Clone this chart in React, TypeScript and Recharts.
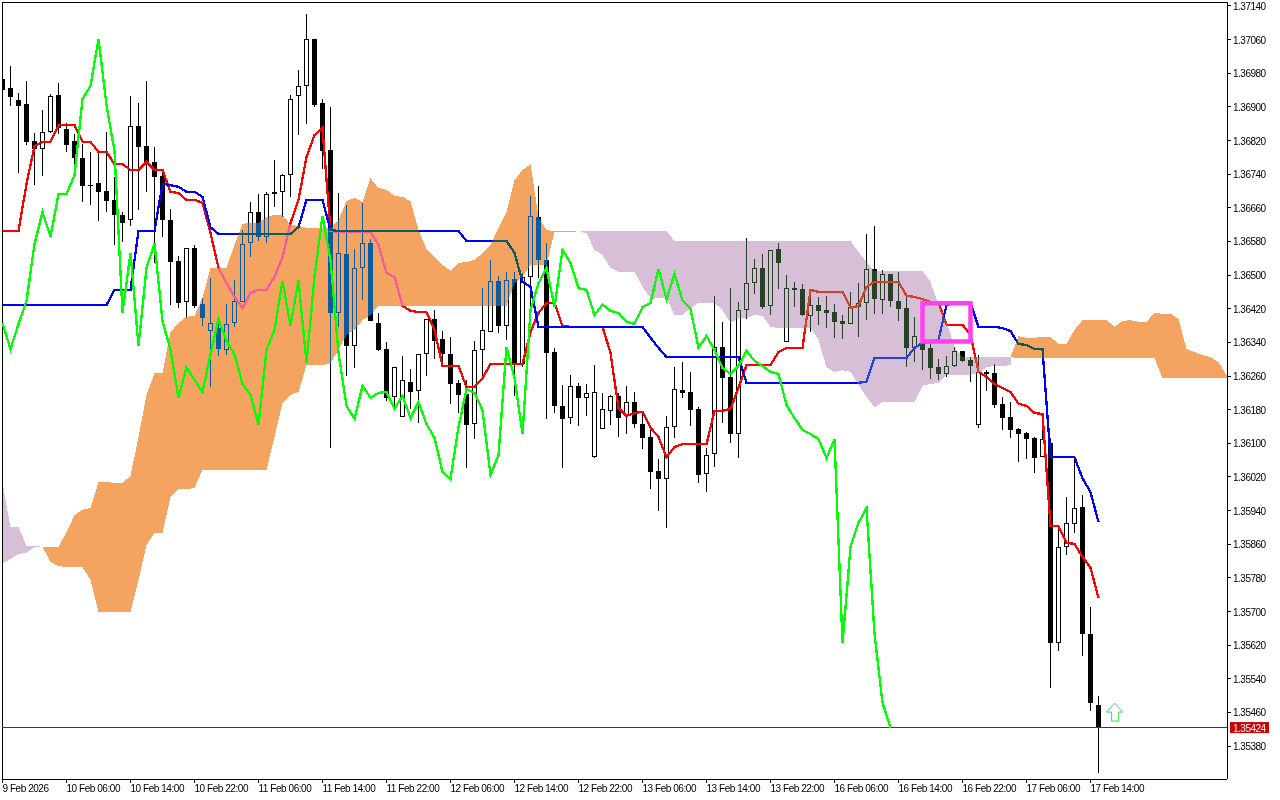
import React from 'react';
import {
  ComposedChart,
  Bar,
  Line,
  Area,
  XAxis,
  YAxis,
  ReferenceLine,
  ReferenceArea,
  ReferenceDot,
} from 'recharts';

// hourly bars, 9 Feb 2026 .. 17 Feb 15:00
const opens = [
  1.36966,1.36945,1.36917,1.36907,1.36819,1.36800,1.36840,1.36928,1.36847,1.36819,
  1.36779,1.36714,1.36719,1.36700,1.36679,1.36643,1.36631,1.36855,1.36807,1.36769,
  1.36736,1.36631,1.36534,1.36436,1.36565,1.36431,1.36367,1.36374,1.36322,1.36386,
  1.36436,1.36576,1.36650,1.36591,1.36698,1.36698,1.36738,1.36926,1.36950,1.37062,
  1.36909,1.36798,1.36410,1.36550,1.36332,1.36517,1.36576,1.36386,1.36324,1.36210,
  1.36163,1.36246,1.36225,1.36312,1.36396,1.36348,1.36312,1.36244,1.36217,1.36146,
  1.36322,1.36365,1.36486,1.36379,1.36491,1.36289,1.36496,1.36638,1.36536,1.36317,
  1.36189,1.36160,1.36237,1.36208,1.36067,1.36134,1.36177,1.36213,1.36165,1.36198,
  1.36146,1.36115,1.36034,1.36015,1.36139,1.36227,1.36222,1.36182,1.36027,1.36075,
  1.36329,1.36258,1.36122,1.36417,1.36481,1.36517,1.36427,1.36562,1.36341,1.36469,
  1.36467,1.36403,1.36430,1.36417,1.36412,1.36391,1.36384,1.36424,1.36434,1.36515,
  1.36441,1.36503,1.36439,1.36422,1.36327,1.36336,1.36327,1.36281,1.36265,1.36284,
  1.36320,1.36298,1.36144,1.36270,1.36267,1.36194,1.36163,1.36134,1.36125,1.36113,
  1.36067,1.36101,1.35625,1.35854,1.35908,1.35948,1.35647,1.35478,
];
const highs = [
  1.36997,1.36997,1.36933,1.36962,1.36838,1.36893,1.36931,1.36957,1.36862,1.36836,
  1.36812,1.36793,1.36793,1.36840,1.36733,1.36650,1.36926,1.36909,1.36962,1.36805,
  1.36750,1.36657,1.36546,1.36565,1.36572,1.36446,1.36493,1.36398,1.36431,1.36488,
  1.36607,1.36674,1.36693,1.36698,1.36774,1.36740,1.36928,1.36988,1.37121,1.37062,
  1.36919,1.36900,1.36695,1.36667,1.36562,1.36672,1.36586,1.36410,1.36341,1.36281,
  1.36308,1.36277,1.36312,1.36396,1.36417,1.36367,1.36353,1.36251,1.36251,1.36343,
  1.36469,1.36536,1.36498,1.36508,1.36508,1.36505,1.36688,1.36712,1.36576,1.36327,
  1.36239,1.36263,1.36244,1.36241,1.36286,1.36220,1.36215,1.36220,1.36237,1.36222,
  1.36175,1.36136,1.36063,1.36165,1.36281,1.36293,1.36270,1.36186,1.36089,1.36451,
  1.36389,1.36469,1.36436,1.36588,1.36538,1.36550,1.36560,1.36576,1.36500,1.36484,
  1.36479,1.36467,1.36448,1.36451,1.36431,1.36405,1.36460,1.36481,1.36598,1.36617,
  1.36512,1.36503,1.36508,1.36453,1.36401,1.36374,1.36339,1.36300,1.36308,1.36329,
  1.36320,1.36305,1.36310,1.36274,1.36289,1.36210,1.36198,1.36137,1.36127,1.36115,
  1.36132,1.36113,1.35901,1.35973,1.36060,1.35977,1.35711,1.35499,
];
const lows = [
  1.36936,1.36902,1.36743,1.36810,1.36714,1.36736,1.36838,1.36836,1.36793,1.36760,
  1.36674,1.36667,1.36629,1.36650,1.36572,1.36579,1.36617,1.36655,1.36698,1.36529,
  1.36591,1.36430,1.36422,1.36398,1.36422,1.36379,1.36234,1.36308,1.36310,1.36377,
  1.36436,1.36543,1.36581,1.36576,1.36662,1.36638,1.36686,1.36833,1.36859,1.36900,
  1.36752,1.36089,1.36377,1.36260,1.36279,1.36441,1.36391,1.36320,1.36201,1.36186,
  1.36163,1.36182,1.36148,1.36260,1.36300,1.36281,1.36194,1.36172,1.36041,1.36110,
  1.36260,1.36365,1.36362,1.36346,1.36213,1.36281,1.36424,1.36493,1.36158,1.36172,
  1.36041,1.36146,1.36141,1.36165,1.36065,1.36134,1.36144,1.36115,1.36122,1.36136,
  1.36086,1.35991,1.35939,1.35899,1.36113,1.36208,1.36141,1.36006,1.35984,1.36044,
  1.36148,1.36101,1.36065,1.36396,1.36455,1.36420,1.36405,1.36467,1.36341,1.36424,
  1.36403,1.36365,1.36381,1.36374,1.36351,1.36348,1.36384,1.36353,1.36393,1.36408,
  1.36408,1.36424,1.36391,1.36281,1.36293,1.36274,1.36253,1.36251,1.36258,1.36281,
  1.36293,1.36246,1.36137,1.36225,1.36184,1.36132,1.36113,1.36056,1.36063,1.36030,
  1.36067,1.35518,1.35606,1.35834,1.35887,1.35595,1.35464,1.35316,
];
const closes = [
  1.36940,1.36924,1.36902,1.36817,1.36800,1.36840,1.36926,1.36850,1.36810,1.36779,
  1.36712,1.36712,1.36698,1.36676,1.36643,1.36624,1.36855,1.36805,1.36769,1.36733,
  1.36631,1.36531,1.36434,1.36565,1.36427,1.36398,1.36386,1.36324,1.36384,1.36439,
  1.36574,1.36650,1.36591,1.36693,1.36693,1.36738,1.36919,1.36950,1.37062,1.36904,
  1.36795,1.36410,1.36553,1.36332,1.36517,1.36576,1.36391,1.36322,1.36208,1.36281,
  1.36251,1.36222,1.36312,1.36396,1.36343,1.36312,1.36241,1.36215,1.36144,1.36322,
  1.36370,1.36486,1.36379,1.36488,1.36291,1.36496,1.36641,1.36536,1.36315,1.36189,
  1.36158,1.36237,1.36208,1.36220,1.36222,1.36182,1.36213,1.36160,1.36198,1.36146,
  1.36113,1.36032,1.36015,1.36139,1.36229,1.36220,1.36179,1.36025,1.36072,1.36329,
  1.36255,1.36122,1.36417,1.36481,1.36517,1.36424,1.36560,1.36529,1.36469,1.36465,
  1.36405,1.36430,1.36415,1.36410,1.36389,1.36384,1.36424,1.36434,1.36515,1.36443,
  1.36503,1.36439,1.36420,1.36327,1.36355,1.36322,1.36279,1.36265,1.36284,1.36320,
  1.36296,1.36284,1.36270,1.36265,1.36191,1.36160,1.36132,1.36122,1.36110,1.36065,
  1.36110,1.35625,1.35854,1.35911,1.35946,1.35647,1.35483,1.35424,
];

const tenkan = [
  1.36605,1.36605,1.36605,1.36717,1.36807,1.36817,1.36817,1.36857,1.36857,1.36857,
  1.36817,1.36817,1.36793,1.36793,1.36764,1.36764,1.36750,1.36750,1.36769,1.36750,
  1.36750,1.36698,1.36695,1.36679,1.36679,1.36672,1.36600,1.36517,1.36481,1.36448,
  1.36422,1.36458,1.36465,1.36465,1.36496,1.36543,1.36624,1.36679,1.36781,1.36833,
  1.36850,1.36605,1.36603,1.36603,1.36603,1.36603,1.36603,1.36572,1.36505,1.36496,
  1.36427,1.36415,1.36412,1.36412,1.36370,1.36284,1.36284,1.36284,1.36234,1.36234,
  1.36255,1.36289,1.36289,1.36289,1.36289,1.36289,1.36365,1.36410,1.36434,1.36434,
  1.36379,1.36377,1.36377,1.36377,1.36377,1.36377,1.36315,1.36184,1.36165,1.36172,
  1.36175,1.36137,1.36115,1.36067,1.36091,1.36098,1.36098,1.36098,1.36098,1.36177,
  1.36177,1.36182,1.36232,1.36286,1.36286,1.36286,1.36286,1.36317,1.36327,1.36327,
  1.36327,1.36465,1.36460,1.36460,1.36460,1.36460,1.36422,1.36427,1.36472,1.36484,
  1.36484,1.36484,1.36484,1.36451,1.36448,1.36443,1.36436,1.36434,1.36382,1.36382,
  1.36382,1.36358,1.36270,1.36258,1.36241,1.36232,1.36222,1.36194,1.36189,1.36172,
  1.36170,1.35903,1.35903,1.35863,1.35861,1.35830,1.35804,1.35732,
];
const kijun = [
  1.36429,1.36429,1.36429,1.36429,1.36429,1.36429,1.36429,1.36429,1.36429,1.36429,
  1.36429,1.36429,1.36429,1.36429,1.36465,1.36465,1.36465,1.36605,1.36605,1.36605,
  1.36717,1.36714,1.36710,1.36698,1.36698,1.36686,1.36614,1.36598,1.36598,1.36598,
  1.36598,1.36598,1.36598,1.36598,1.36598,1.36598,1.36598,1.36614,1.36679,1.36679,
  1.36679,1.36607,1.36605,1.36605,1.36605,1.36605,1.36605,1.36605,1.36605,1.36605,
  1.36605,1.36605,1.36605,1.36605,1.36605,1.36605,1.36605,1.36605,1.36581,1.36581,
  1.36581,1.36581,1.36581,1.36581,1.36553,1.36484,1.36472,1.36377,1.36377,1.36377,
  1.36377,1.36377,1.36377,1.36377,1.36377,1.36377,1.36377,1.36377,1.36377,1.36377,
  1.36377,1.36351,1.36327,1.36305,1.36305,1.36305,1.36305,1.36305,1.36305,1.36305,
  1.36305,1.36305,1.36305,1.36244,1.36244,1.36244,1.36244,1.36244,1.36244,1.36244,
  1.36244,1.36244,1.36244,1.36244,1.36244,1.36244,1.36244,1.36244,1.36246,1.36303,
  1.36303,1.36303,1.36303,1.36303,1.36327,1.36339,1.36341,1.36346,1.36429,1.36434,
  1.36434,1.36434,1.36377,1.36377,1.36377,1.36374,1.36367,1.36336,1.36334,1.36324,
  1.36324,1.36067,1.36067,1.36067,1.36067,1.36017,1.35984,1.35913,
];
const chikou = [
  1.36386,1.36324,1.36384,1.36439,1.36574,1.36650,1.36591,1.36693,1.36693,1.36738,
  1.36919,1.36950,1.37062,1.36904,1.36795,1.36410,1.36553,1.36332,1.36517,1.36576,
  1.36391,1.36322,1.36208,1.36281,1.36251,1.36222,1.36312,1.36396,1.36343,1.36312,
  1.36241,1.36215,1.36144,1.36322,1.36370,1.36486,1.36379,1.36488,1.36291,1.36496,
  1.36641,1.36536,1.36315,1.36189,1.36158,1.36237,1.36208,1.36220,1.36222,1.36182,
  1.36213,1.36160,1.36198,1.36146,1.36113,1.36032,1.36015,1.36139,1.36229,1.36220,
  1.36179,1.36025,1.36072,1.36329,1.36255,1.36122,1.36417,1.36481,1.36517,1.36424,
  1.36560,1.36529,1.36469,1.36465,1.36405,1.36430,1.36415,1.36410,1.36389,1.36384,
  1.36424,1.36434,1.36515,1.36443,1.36503,1.36439,1.36420,1.36327,1.36355,1.36322,
  1.36279,1.36265,1.36284,1.36320,1.36296,1.36284,1.36270,1.36265,1.36191,1.36160,
  1.36132,1.36122,1.36110,1.36065,1.36110,1.35625,1.35854,1.35911,1.35946,1.35647,
  1.35483,1.35424,
];
const senkouA = [
  1.35815,1.35825,1.35837,1.35839,1.35854,1.35854,1.35854,1.35854,1.35889,1.35929,
  1.35942,1.35946,1.36008,1.36008,1.36006,1.36006,1.36022,1.36115,1.36215,1.36267,
  1.36267,1.36365,1.36386,1.36401,1.36403,1.36446,1.36517,1.36517,1.36517,1.36572,
  1.36622,1.36624,1.36624,1.36638,1.36643,1.36643,1.36619,1.36617,1.36612,1.36612,
  1.36612,1.36612,1.36631,1.36676,1.36684,1.36674,1.36731,1.36707,1.36703,1.36688,
  1.36686,1.36676,1.36607,1.36562,1.36543,1.36524,1.36510,1.36529,1.36531,1.36536,
  1.36553,1.36572,1.36612,1.36650,1.36726,1.36750,1.36764,1.36638,1.36607,1.36605,
  1.36605,1.36605,1.36603,1.36600,1.36560,1.36548,1.36517,1.36508,1.36508,1.36508,
  1.36472,1.36446,1.36446,1.36446,1.36405,1.36405,1.36422,1.36434,1.36434,1.36434,
  1.36417,1.36386,1.36398,1.36398,1.36405,1.36403,1.36377,1.36374,1.36374,1.36374,
  1.36374,1.36374,1.36346,1.36281,1.36270,1.36274,1.36270,1.36239,1.36210,1.36186,
  1.36198,1.36198,1.36198,1.36198,1.36198,1.36237,1.36241,1.36244,1.36263,1.36263,
  1.36263,1.36263,1.36267,1.36281,1.36284,1.36284,1.36286,1.36355,1.36351,1.36351,
  1.36353,1.36353,1.36336,1.36336,1.36370,1.36393,1.36393,1.36393,1.36393,1.36377,
  1.36391,1.36393,1.36389,1.36389,1.36410,1.36408,1.36408,1.36396,1.36324,1.36317,
  1.36310,1.36305,1.36293,1.36262,
];
const senkouB = [
  1.36006,1.35901,1.35901,1.35856,1.35856,1.35854,1.35818,1.35808,1.35806,1.35806,
  1.35806,1.35775,1.35699,1.35699,1.35699,1.35699,1.35699,1.35775,1.35858,1.35887,
  1.35887,1.35973,1.35991,1.35991,1.35994,1.36037,1.36037,1.36037,1.36037,1.36037,
  1.36037,1.36037,1.36037,1.36037,1.36115,1.36196,1.36215,1.36222,1.36286,1.36286,
  1.36286,1.36291,1.36322,1.36358,1.36370,1.36393,1.36405,1.36427,1.36427,1.36427,
  1.36427,1.36427,1.36427,1.36427,1.36427,1.36427,1.36427,1.36427,1.36427,1.36427,
  1.36427,1.36427,1.36427,1.36427,1.36481,1.36496,1.36524,1.36524,1.36524,1.36603,
  1.36603,1.36603,1.36603,1.36605,1.36605,1.36605,1.36605,1.36605,1.36605,1.36605,
  1.36605,1.36605,1.36605,1.36605,1.36581,1.36581,1.36581,1.36581,1.36581,1.36581,
  1.36581,1.36581,1.36581,1.36581,1.36581,1.36581,1.36581,1.36581,1.36581,1.36581,
  1.36581,1.36581,1.36581,1.36581,1.36581,1.36581,1.36581,1.36555,1.36531,1.36510,
  1.36510,1.36510,1.36510,1.36510,1.36510,1.36510,1.36484,1.36429,1.36389,1.36329,
  1.36305,1.36305,1.36305,1.36305,1.36305,1.36305,1.36305,1.36303,1.36303,1.36303,
  1.36303,1.36303,1.36303,1.36303,1.36303,1.36303,1.36303,1.36303,1.36303,1.36303,
  1.36303,1.36303,1.36303,1.36303,1.36303,1.36255,1.36255,1.36255,1.36255,1.36255,
  1.36255,1.36255,1.36255,1.36255,
];

const priceTicks = [
  1.3714, 1.3706, 1.3698, 1.369, 1.3682, 1.3674, 1.3666, 1.3658, 1.365, 1.3642, 1.3634,
  1.3626, 1.3618, 1.361, 1.3602, 1.3594, 1.3586, 1.3578, 1.357, 1.3562, 1.3554, 1.3546, 1.3538,
];
const timeLabels = [
  '9 Feb 2026', '10 Feb 06:00', '10 Feb 14:00', '10 Feb 22:00', '11 Feb 06:00', '11 Feb 14:00',
  '11 Feb 22:00', '12 Feb 06:00', '12 Feb 14:00', '12 Feb 22:00', '13 Feb 06:00', '13 Feb 14:00',
  '13 Feb 22:00', '16 Feb 06:00', '16 Feb 14:00', '16 Feb 22:00', '17 Feb 06:00', '17 Feb 14:00',
];
const BARS_PER_LABEL = 8;
const timeTicks = timeLabels.map((_, i) => i * BARS_PER_LABEL);

const lastPrice = 1.35424;
const priceDomain = [1.353017, 1.371495];
const barDomain = [-0.0625, 153.0625];

const rows = senkouA.map((a, i) => {
  const b = senkouB[i];
  const startsBull = a < b && senkouA[i + 1] > senkouB[i + 1];
  return {
    bar: i,
    open: opens[i],
    high: highs[i],
    low: lows[i],
    close: closes[i],
    range: i < opens.length ? [lows[i], highs[i]] : [null, null],
    tenkan: tenkan[i] ?? null,
    kijun: kijun[i] ?? null,
    chikou: chikou[i] ?? null,
    kumoBull: a >= b ? [b, a] : startsBull ? [b, b] : [null, null],
    kumoBear: a <= b ? [a, b] : [null, null],
  };
});

// wick + body, price -> pixel taken from the bar rectangle the y axis produced
const Candle = (props: any) => {
  const { x, y, width, height, payload } = props;
  if (payload.high == null || !height) return null;
  const perUnit = height / (payload.high - payload.low);
  const toY = (p: number) => Math.round(y + (payload.high - p) * perUnit);
  const cx = Math.floor(x + width / 2) + 0.5;
  const bull = payload.close > payload.open;
  const top = toY(Math.max(payload.open, payload.close));
  const bottom = Math.max(toY(Math.min(payload.open, payload.close)), top + 1);
  return (
    <g shapeRendering="crispEdges">
      <line x1={cx} x2={cx} y1={toY(payload.high)} y2={toY(payload.low)} stroke="#000" />
      {bull ? (
        <rect x={cx - 2} y={top + 0.5} width={4} height={bottom - top - 1} fill="#fff" stroke="#000" />
      ) : (
        <rect x={cx - 2.5} y={top} width={5} height={bottom - top} fill="#000" />
      )}
    </g>
  );
};

const TimeTick = ({ x, y, payload }: any) => (
  <text x={x} y={y + 7} fontFamily="Liberation Sans" fontSize={10} letterSpacing={-0.45} fill="#000">
    {timeLabels[payload.value / BARS_PER_LABEL]}
  </text>
);

const PriceTick = ({ x, y, payload }: any) => (
  <text x={x} y={y + 4} fontFamily="Liberation Sans" fontSize={10} letterSpacing={-0.5} fill="#000">
    {payload.value.toFixed(5)}
  </text>
);

const PriceTag = ({ viewBox }: any) => {
  const x = viewBox.x + viewBox.width;
  return (
    <g>
      <rect x={x + 3} y={viewBox.y - 5.5} width={39} height={11} fill="#c80000" />
      <text x={x + 6} y={viewBox.y + 4} fontFamily="Liberation Sans" fontSize={10} letterSpacing={-0.5} fill="#fff">
        {lastPrice.toFixed(5)}
      </text>
    </g>
  );
};

const UpArrow = ({ cx, cy }: any) => {
  const d = (ox: number, oy: number) =>
    `M${ox} ${oy - 9}L${ox + 8} ${oy}H${ox + 4}V${oy + 9}H${ox - 3}V${oy}H${ox - 8}Z`;
  return (
    <g>
      <path d={d(cx + 0.5, cy + 0.5)} fill="none" stroke="#b6f2f2" />
      <path d={d(cx, cy)} fill="none" stroke="#5fdc5f" />
    </g>
  );
};

const axisPen = { stroke: '#000', shapeRendering: 'crispEdges' };
const LINE_WIDTH = 2.3;

export default function App() {
  return (
    <div style={{ position: 'absolute', left: 0, top: 0, width: 1280, height: 800, background: '#fff' }}>
      <style>{'.kumo{mix-blend-mode:difference}'}</style>
      <ComposedChart width={1280} height={800} data={rows} margin={{ top: 2, right: 0, bottom: 0, left: 2 }}>
        <ReferenceArea
          x1={barDomain[0]}
          x2={barDomain[1]}
          y1={priceDomain[0]}
          y2={priceDomain[1]}
          fill="#fff"
          fillOpacity={1}
          stroke="none"
          zIndex={1}
        />
        <XAxis
          dataKey="bar"
          type="number"
          domain={barDomain}
          ticks={timeTicks}
          interval={0}
          height={21}
          tickSize={4}
          tickMargin={2}
          axisLine={axisPen}
          tickLine={axisPen}
          tick={<TimeTick />}
          allowDataOverflow
        />
        <YAxis
          orientation="right"
          type="number"
          domain={priceDomain}
          ticks={priceTicks}
          interval={0}
          width={53}
          tickSize={4}
          tickMargin={2}
          axisLine={axisPen}
          tickLine={axisPen}
          tick={<PriceTick />}
          allowDataOverflow
        />
        <ReferenceLine x={barDomain[0]} stroke="#000" shapeRendering="crispEdges" zIndex={2} />
        <ReferenceLine y={priceDomain[1]} stroke="#000" shapeRendering="crispEdges" zIndex={2} />

        <Bar dataKey="range" barSize={5} shape={<Candle />} isAnimationActive={false} zIndex={10} />
        <Line dataKey="tenkan" stroke="#ff0000" strokeWidth={LINE_WIDTH} dot={false} activeDot={false} shapeRendering="crispEdges" isAnimationActive={false} zIndex={11} />
        <Line dataKey="kijun" stroke="#0000ff" strokeWidth={LINE_WIDTH} dot={false} activeDot={false} shapeRendering="crispEdges" isAnimationActive={false} zIndex={12} />
        <ReferenceLine y={lastPrice} stroke="#c80000" shapeRendering="crispEdges" label={<PriceTag />} zIndex={13} />

        {/* 0b5b9f differenced on white gives f4a460, 274027 gives d8bfd8 */}
        <Area className="kumo" dataKey="kumoBull" fill="#0b5b9f" fillOpacity={1} stroke="none" dot={false} activeDot={false} shapeRendering="crispEdges" isAnimationActive={false} zIndex={20} />
        <Area className="kumo" dataKey="kumoBear" fill="#274027" fillOpacity={1} stroke="none" dot={false} activeDot={false} shapeRendering="crispEdges" isAnimationActive={false} zIndex={21} />

        <Line dataKey="chikou" stroke="#00ff00" strokeWidth={LINE_WIDTH} dot={false} activeDot={false} shapeRendering="crispEdges" isAnimationActive={false} zIndex={30} />

        <ReferenceArea x1={115} x2={121} y1={1.36342} y2={1.36433} fill="none" stroke="#ff40f0" strokeWidth={4.5} zIndex={31} />
        <ReferenceDot x={139} y={1.35461} shape={<UpArrow />} zIndex={32} />
      </ComposedChart>
    </div>
  );
}
